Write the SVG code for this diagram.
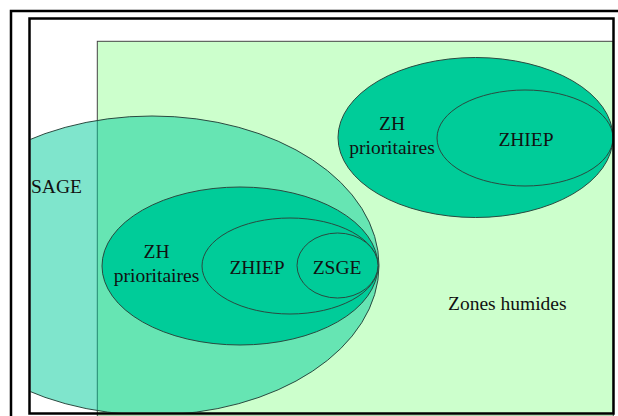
<svg xmlns="http://www.w3.org/2000/svg" width="618" height="416" viewBox="0 0 618 416">
  <defs>
    <style>
      .lbl { font-family: "Liberation Serif", "Times New Roman", serif; font-size: 19.5px; fill: #111; }
      .mid { text-anchor: middle; }
      .zone { fill: #00CC99; stroke: #2a4a40; stroke-width: 1; }
      .sage { fill: #00CC99; fill-opacity: 0.5; stroke: #2a4a40; stroke-width: 1; }
    </style>
    <clipPath id="frameClip">
      <rect x="30.5" y="19.5" width="582" height="393"/>
    </clipPath>
  </defs>
  <rect x="0" y="0" width="618" height="416" fill="#ffffff"/>

  <g id="zones-humides">
    <rect x="97.3" y="41.3" width="516" height="375" fill="#CCFFCC" stroke="#444" stroke-width="1"/>
    <text class="lbl" x="448" y="310">Zones humides</text>
  </g>

  <g id="sage">
    <ellipse class="sage" cx="152" cy="265.5" rx="227" ry="149.5" clip-path="url(#frameClip)"/>
    <text class="lbl" x="31" y="193">SAGE</text>
  </g>

  <g id="zh-prioritaires-1">
    <ellipse class="zone" cx="240" cy="266" rx="138" ry="79"/>
    <text class="lbl mid" x="156.5" y="258">ZH</text>
    <text class="lbl mid" x="156.5" y="282">prioritaires</text>
  </g>

  <g id="zhiep-1">
    <ellipse class="zone" cx="290" cy="266" rx="88" ry="48"/>
    <text class="lbl mid" x="257" y="274">ZHIEP</text>
  </g>

  <g id="zsge">
    <ellipse class="zone" cx="337.5" cy="265.5" rx="40.5" ry="32.5"/>
    <text class="lbl mid" x="337" y="274">ZSGE</text>
  </g>

  <g id="zh-prioritaires-2">
    <ellipse class="zone" cx="475.5" cy="137.5" rx="137.5" ry="80"/>
    <text class="lbl mid" x="392" y="129.5">ZH</text>
    <text class="lbl mid" x="392" y="154">prioritaires</text>
  </g>

  <g id="zhiep-2">
    <ellipse class="zone" cx="525" cy="138" rx="88" ry="48"/>
    <text class="lbl mid" x="526" y="146">ZHIEP</text>
  </g>

  <g id="connectors"></g>

  <g id="frames" fill="none" stroke="#000">
    <rect x="11" y="11" width="630" height="430" stroke-width="2.5"/>
    <rect x="29.5" y="18.5" width="584" height="395" stroke-width="2.5"/>
  </g>
</svg>
